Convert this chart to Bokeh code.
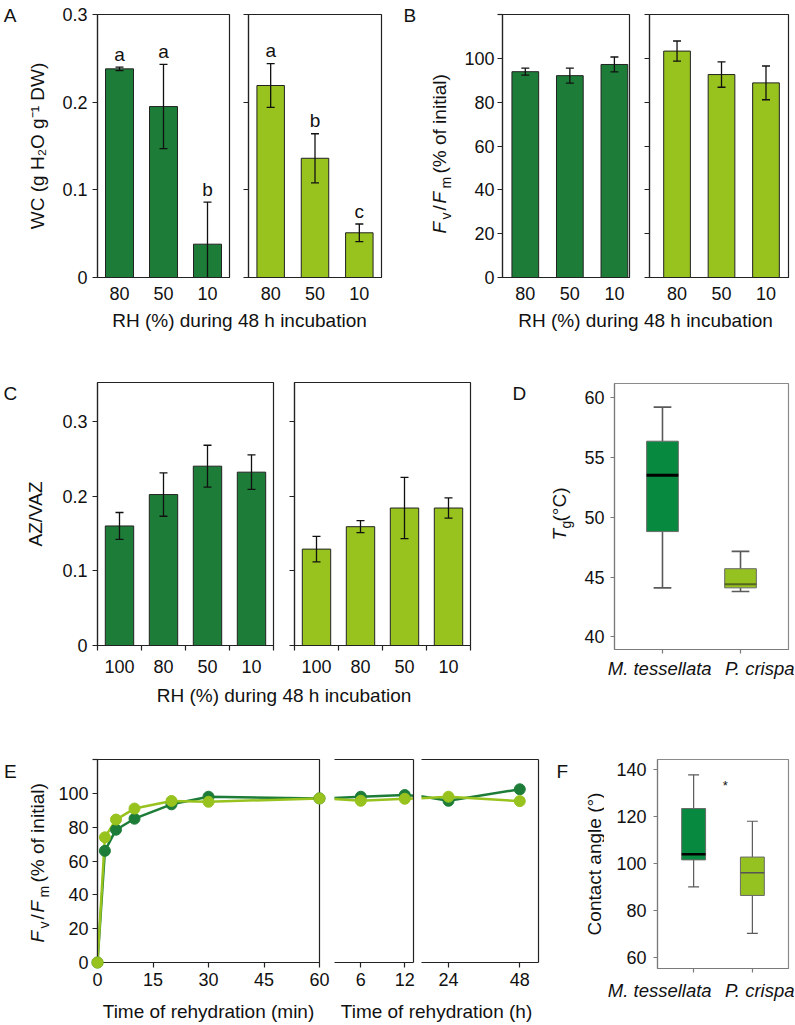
from bokeh.plotting import figure
from bokeh.models import Range1d, FixedTicker, LinearAxis
from bokeh.layouts import row, column
from bokeh.embed import file_html
from bokeh.resources import INLINE
from bokeh.core.properties import value

FONT = "Liberation Sans"
INK = "#111111"
DARK = "#1d7d38"
LIGHT = "#98c21e"
BOX_DARK = "#07893f"
BOX_LIGHT = "#95c121"

# ---------------- data ----------------
rh_ab = ["80", "50", "10"]
wc_mt = [0.238, 0.195, 0.038]
wc_mt_err = [0.002, 0.048, 0.048]
wc_mt_sig = ["a", "a", "b"]
wc_pc = [0.219, 0.136, 0.051]
wc_pc_err = [0.025, 0.028, 0.010]
wc_pc_sig = ["a", "b", "c"]
wc_ticks = [0, 0.1, 0.2, 0.3]
wc_tick_labels = ["0", "0.1", "0.2", "0.3"]

fv_mt = [93.9, 92.1, 97.2]
fv_mt_err = [1.6, 3.4, 3.4]
fv_pc = [103.3, 92.6, 88.8]
fv_pc_err = [4.6, 5.8, 7.7]
fv_ticks = [0, 20, 40, 60, 80, 100]
fv_tick_labels = ["0", "20", "40", "60", "80", "100"]
fv_unlabelled_ticks = [120]

rh_c = ["100", "80", "50", "10"]
az_mt = [0.160, 0.202, 0.240, 0.232]
az_mt_err = [0.018, 0.029, 0.028, 0.023]
az_pc = [0.129, 0.159, 0.184, 0.184]
az_pc_err = [0.017, 0.008, 0.041, 0.0135]
az_ticks = [0, 0.1, 0.2, 0.3]
az_tick_labels = ["0", "0.1", "0.2", "0.3"]

species = ["M. tessellata", "P. crispa"]
tg_low = [44.1, 43.8]
tg_q1 = [48.8, 44.1]
tg_med = [53.5, 44.4]
tg_q3 = [56.35, 45.7]
tg_high = [59.2, 47.15]
tg_ticks = [40, 45, 50, 55, 60]

ca_low = [90.1, 70.4]
ca_q1 = [101.6, 86.5]
ca_med = [104.0, 96.1]
ca_q3 = [123.4, 102.8]
ca_high = [137.7, 118.0]
ca_ticks = [60, 80, 100, 120, 140]
ca_sig = ["*"]
ca_sig_x = [1.54]
ca_sig_y = [133.0]

t_min = [0, 2, 5, 10, 20, 30, 60]
rec_mt_min = [0, 66, 78.5, 85, 93.5, 98, 97]
rec_pc_min = [0, 74, 84.5, 91, 95.5, 95, 97]
t_h = [1, 6, 12, 24, 48]
rec_mt_h = [97, 98, 99, 95.6, 102.4]
rec_pc_h = [97, 95.6, 96.8, 98, 95.4]
t_min_ticks = [0, 15, 30, 45, 60]
t_h_ticks_a = [6, 12]
t_h_ticks_b = [24, 48]


# ---------------- helpers ----------------
def style_axis(ax, line="#222", tick="#222", size="18px", tick_len=5):
    ax.axis_line_color = line
    ax.axis_line_width = 1.2
    ax.major_tick_line_color = tick
    ax.major_tick_line_width = 1.2
    ax.major_tick_out = tick_len
    ax.major_tick_in = 0
    ax.minor_tick_line_color = tick
    ax.minor_tick_line_width = 1.2
    ax.minor_tick_out = tick_len
    ax.minor_tick_in = 0
    ax.major_label_text_font = FONT
    ax.major_label_text_font_size = size
    ax.major_label_text_color = INK
    ax.axis_label_text_font = FONT
    ax.axis_label_text_font_size = "19px"
    ax.axis_label_text_font_style = "normal"
    ax.axis_label_text_color = INK


def base_fig(W, H, bl, br, bt, bb, xr, yr, outline="#222", axis_col="#222", tick_len=5, **kw):
    p = figure(width=W, height=H, min_border_left=bl, min_border_right=br,
               min_border_top=bt, min_border_bottom=bb,
               x_range=Range1d(*xr), y_range=Range1d(*yr),
               toolbar_location=None, tools="", output_backend="svg", **kw)
    p.grid.visible = False
    p.outline_line_color = outline
    p.outline_line_width = 1.2
    p.border_fill_color = "white"
    p.background_fill_color = "white"
    for ax in p.axis:
        style_axis(ax, axis_col, axis_col, tick_len=tick_len)
    return p


def strip(W, H, bt=0, bb=0):
    # text-only panel; its frame gets aligned with its row neighbours (bt/bb),
    # so the ranges are chosen to make data units equal canvas pixels
    p = figure(width=W, height=H, x_range=Range1d(0, W), y_range=Range1d(bb, H - bt),
               min_border=0, min_border_left=0, min_border_right=0,
               min_border_top=bt, min_border_bottom=bb,
               toolbar_location=None, tools="", output_backend="svg",
               x_axis_location=None, y_axis_location=None)
    p.outline_line_color = None
    p.grid.visible = False
    p.border_fill_color = "white"
    p.background_fill_color = "white"
    return p


def put(p, left, top, px, py, txt, size=19, style="normal", angle=0, align="center"):
    """Place text at page coords (left/top = page position of the strip)."""
    H = p.height
    p.text(x=[px - left], y=[H - (py - top)], text=[txt], angle=angle, angle_units="deg",
           text_align=align, text_baseline="middle", text_font=value(FONT),
           text_font_size=f"{size}px", text_font_style=style, text_color=INK,
           level="overlay")


def rotated_pieces(p, left, top, bx, by, pieces):
    # bx = page x of the text baseline, by = page y where the text starts (bottom)
    for txt, sz, st, dx, off in pieces:
        put(p, left, top, bx + dx - 0.3465 * sz, by - off, txt, size=sz, style=st,
            angle=90, align="left")


FVFM_PIECES = [("F", 19, "italic", 0, 0), ("v", 14, "normal", 4, 14),
               ("/", 19, "normal", 0, 23), ("F", 19, "italic", 0, 30),
               ("m", 14, "normal", 4, 45), (" (% of initial)", 19, "normal", 0, 60)]


def bar_panel(W, H, bl, br, bt, bb, xr, yr, cats, vals, errs, color, yticks, ylabels,
              bar_w, sig=None, bounds=False, extra_y=(), x_standoff=9, y_standoff=5):
    pos = list(range(1, len(cats) + 1))
    p = base_fig(W, H, bl, br, bt, bb, xr, yr)
    edges = [x - 0.5 for x in pos] + [pos[-1] + 0.5]
    p.xaxis.ticker = FixedTicker(ticks=pos, minor_ticks=edges if bounds else [])
    p.xaxis.major_label_overrides = dict(zip(pos, cats))
    p.xaxis.major_tick_out = 0
    p.xaxis.major_label_standoff = x_standoff
    if ylabels:
        p.yaxis.ticker = FixedTicker(ticks=yticks, minor_ticks=list(extra_y))
        p.yaxis.major_label_overrides = dict(zip(yticks, ylabels))
        p.yaxis.major_label_standoff = y_standoff
    else:
        p.yaxis.ticker = FixedTicker(ticks=[], minor_ticks=list(yticks) + list(extra_y))
        p.yaxis.major_label_standoff = 0
    p.vbar(x=pos, top=vals, bottom=0, width=bar_w, fill_color=color,
           line_color="#222", line_width=1)
    lo = [v - e for v, e in zip(vals, errs)]
    hi = [v + e for v, e in zip(vals, errs)]
    p.segment(pos, lo, pos, hi, line_color=INK, line_width=1.3)
    p.scatter(pos, hi, marker="dash", size=8, line_color=INK, line_width=1.3)
    p.scatter(pos, lo, marker="dash", size=8, line_color=INK, line_width=1.3)
    if sig:
        p.text(x=pos, y=hi, text=sig, y_offset=-13, text_align="center",
               text_baseline="middle", text_font=value(FONT),
               text_font_size="19px", text_color=INK)
    return p


def box_panel(W, H, bl, br, bt, bb, yr, yticks, lows, q1, med, q3, highs,
              box_w, cap_w, med_cols, med_ws, whisk_w, y_standoff, sp_range, sp_standoff):
    xs = [1, 2]
    p = base_fig(W, H, bl, br, bt, bb, (0.385, 2.615), yr, outline="#8a8a8a",
                 axis_col="#7a7a7a", tick_len=4)
    p.xaxis.ticker = FixedTicker(ticks=[], minor_ticks=xs)
    p.xaxis.major_label_standoff = 0
    p.yaxis.ticker = FixedTicker(ticks=yticks)
    p.yaxis.major_label_standoff = y_standoff
    # species names on their own axis (they sit off the tick marks in the original)
    p.extra_x_ranges = {"sp": Range1d(*sp_range)}
    sp_ax = LinearAxis(x_range_name="sp", ticker=FixedTicker(ticks=xs))
    style_axis(sp_ax, size="18.5px")
    sp_ax.axis_line_color = None
    sp_ax.major_tick_line_color = None
    sp_ax.major_tick_out = 0
    sp_ax.major_label_overrides = dict(zip(xs, species))
    sp_ax.major_label_text_font_style = "italic"
    sp_ax.major_label_standoff = sp_standoff
    p.add_layout(sp_ax, "below")

    wc = "#5a5a5a"
    p.segment(xs, lows, xs, q1, line_color=wc, line_width=whisk_w)
    p.segment(xs, q3, xs, highs, line_color=wc, line_width=whisk_w)
    p.segment([x - cap_w / 2 for x in xs], highs, [x + cap_w / 2 for x in xs], highs,
              line_color=wc, line_width=whisk_w)
    p.segment([x - cap_w / 2 for x in xs], lows, [x + cap_w / 2 for x in xs], lows,
              line_color=wc, line_width=whisk_w)
    p.vbar(x=xs, bottom=q1, top=q3, width=box_w, fill_color=[BOX_DARK, BOX_LIGHT],
           line_color="#6a6a6a", line_width=1)
    p.segment([x - box_w / 2 for x in xs], med, [x + box_w / 2 for x in xs], med,
              line_color=med_cols, line_width=med_ws)
    return p


# ---------------- Row 1: A and B (page y 0-348) ----------------
SA = strip(20, 311, 14, 34)
put(SA, 0, 0, 3.3, 14.5, "A", align="left")
A1 = bar_panel(218, 311, 77, 9, 14, 34, (0.5, 3.5), (0, 0.3), rh_ab, wc_mt, wc_mt_err, DARK,
               wc_ticks, wc_tick_labels, 0.636, sig=wc_mt_sig)
A1.yaxis.axis_label = "WC (g H\u2082O g\u207b\u00b9 DW)"
A1.yaxis.axis_label_standoff = 11
A2 = bar_panel(157, 311, 10, 14, 14, 34, (0.5, 3.5), (0, 0.3), rh_ab, wc_pc, wc_pc_err, LIGHT,
               wc_ticks, None, 0.62, sig=wc_pc_sig)

SB = strip(63, 311, 14, 34)
put(SB, 395, 0, 403, 14.5, "B", align="left")
rotated_pieces(SB, 395, 0, 446, 233, FVFM_PIECES)
B1 = bar_panel(182, 311, 44, 11, 14, 34, (0.488, 3.339), (0, 120), rh_ab, fv_mt, fv_mt_err, DARK,
               fv_ticks, fv_tick_labels, 0.6, extra_y=fv_unlabelled_ticks, y_standoff=3)
B2 = bar_panel(154, 311, 9, 6, 14, 34, (0.381, 3.506), (0, 120), rh_ab, fv_pc, fv_pc_err, LIGHT,
               fv_ticks, None, 0.6, extra_y=fv_unlabelled_ticks)

Alab = strip(395, 37)
put(Alab, 0, 311, 239, 320, "RH (%) during 48 h incubation")
Blab = strip(399, 37)
put(Blab, 395, 311, 645, 320, "RH (%) during 48 h incubation")

row1 = row(column(row(SA, A1, A2), Alab), column(row(SB, B1, B2), Blab))

# ---------------- Row 2: C and D (page y 348-712) ----------------
SC = strip(20, 336, 34, 39)
put(SC, 0, 348, 3, 392.5, "C", align="left")
C1 = bar_panel(263, 336, 77, 10, 34, 39, (0.5, 4.5), (0, 0.352), rh_c, az_mt, az_mt_err, DARK,
               az_ticks, az_tick_labels, 0.645, bounds=True)
C1.yaxis.axis_label = "AZ/VAZ"
C1.yaxis.axis_label_standoff = 13
C2 = bar_panel(207, 336, 11, 20, 34, 39, (0.5, 4.5), (0, 0.352), rh_c, az_pc, az_pc_err, LIGHT,
               az_ticks, None, 0.645, bounds=True)
Clab = strip(490, 28)
put(Clab, 0, 684, 283.5, 695, "RH (%) during 48 h incubation")

SD = strip(88, 364, 35, 63)
put(SD, 490, 348, 512, 392.5, "D", align="left")
rotated_pieces(SD, 490, 348, 566, 540, [("T", 19, "italic", 0, 0), ("g", 14, "normal", 4, 12),
                                        (" (\u00b0C)", 19, "normal", 0, 19)])
D = box_panel(216, 364, 36, 6, 35, 63, (38.95, 61.17), tg_ticks, tg_low, tg_q1, tg_med,
              tg_q3, tg_high, 0.406, 0.227, ["#000000", "#56651f"], [3, 2], 1.6, 6,
              (0.555, 2.268), 4)

row2 = row(column(row(SC, C1, C2), Clab), SD, D)

# ---------------- Row 3: E and F (page y 712-1022) ----------------
SE = strip(52, 284, 47, 34)
put(SE, 0, 712, 3.6, 770.5, "E", align="left")
rotated_pieces(SE, 0, 712, 44, 942, FVFM_PIECES)

E1 = base_fig(278, 284, 45, 11, 47, 34, (0, 60), (0, 120))
E1.xaxis.ticker = FixedTicker(ticks=t_min_ticks)
E1.xaxis.major_label_standoff = 5
E1.yaxis.ticker = FixedTicker(ticks=fv_ticks, minor_ticks=fv_unlabelled_ticks)
E1.yaxis.major_label_overrides = dict(zip(fv_ticks, fv_tick_labels))
E1.yaxis.major_label_standoff = 4
E1.line(t_min, rec_mt_min, line_color=DARK, line_width=2.5)
E1.line(t_min, rec_pc_min, line_color=LIGHT, line_width=2.5)
E1.scatter(t_min, rec_mt_min, size=11, fill_color=DARK, line_color=DARK, level="overlay")
E1.scatter(t_min, rec_pc_min, size=11, fill_color=LIGHT, line_color=LIGHT, level="overlay")


def e_hours(W, bl, br, xr, ticks):
    p = base_fig(W, 284, bl, br, 47, 34, xr, (0, 120), y_axis_location=None)
    p.outline_line_color = None
    p.xaxis.ticker = FixedTicker(ticks=ticks)
    p.xaxis.major_label_standoff = 5
    for loc in ("above", "right"):
        ax = LinearAxis(ticker=FixedTicker(ticks=[]))
        style_axis(ax)
        ax.major_tick_out = 0
        ax.major_label_standoff = 0
        p.add_layout(ax, loc)
    p.line(t_h, rec_mt_h, line_color=DARK, line_width=2.5)
    p.line(t_h, rec_pc_h, line_color=LIGHT, line_width=2.5)
    keep = [i for i, t in enumerate(t_h) if xr[0] <= t <= xr[1]]
    p.scatter([t_h[i] for i in keep], [rec_mt_h[i] for i in keep], size=11,
              fill_color=DARK, line_color=DARK)
    p.scatter([t_h[i] for i in keep], [rec_pc_h[i] for i in keep], size=11,
              fill_color=LIGHT, line_color=LIGHT)
    return p


E2 = e_hours(87, 4, 4, (2.41, 13.19), t_h_ticks_a)
E3 = e_hours(131, 4, 10, (14.91, 54.3), t_h_ticks_b)

Elab = strip(548, 26)
put(Elab, 0, 996, 208, 1011, "Time of rehydration (min)")
put(Elab, 0, 996, 436, 1011, "Time of rehydration (h)")

SF = strip(56, 310, 47, 54)
put(SF, 548, 712, 556, 770.5, "F", align="left")
put(SF, 548, 712, 601 - 0.3465 * 19, 863.5, "Contact angle (\u00b0)", angle=90)
F = box_panel(190, 310, 53, 6, 47, 54, (55.5, 144.2), ca_ticks, ca_low, ca_q1, ca_med,
              ca_q3, ca_high, 0.407, 0.186, ["#000000", "#555555"], [2.5, 1.5], 1.2, 7,
              (0.978, 2.268), 7)
F.text(x=ca_sig_x, y=ca_sig_y, text=ca_sig, text_align="center", text_baseline="middle",
       text_font=value(FONT), text_font_size="13px", text_color=INK)

row3 = row(column(row(SE, E1, E2, E3), Elab), SF, F)

root = column(row1, row2, row3)

open("out.html", "w").write(file_html(root, INLINE, title="Figure"))
